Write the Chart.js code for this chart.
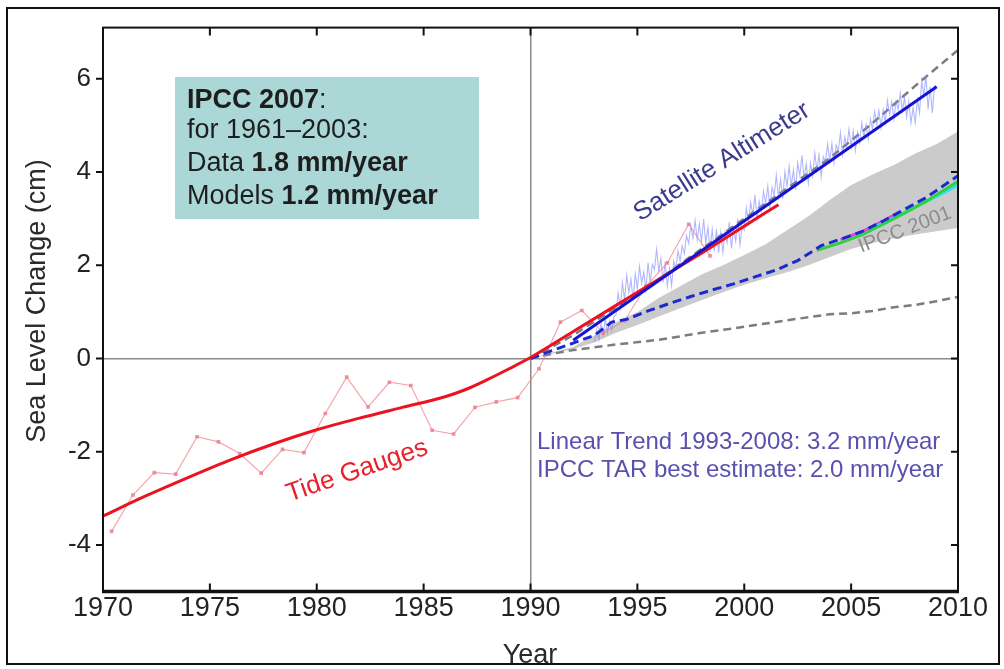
<!DOCTYPE html>
<html>
<head>
<meta charset="utf-8">
<script src="https://cdn.jsdelivr.net/npm/chart.js@4.4.1/dist/chart.umd.min.js"></script>
<style>
  html, body { margin: 0; padding: 0; background: #fff; }
  #wrap { position: relative; width: 1004px; height: 669px; overflow: hidden; }
  #frame { position: absolute; left: 6px; top: 7px; width: 990px; height: 654px; border: 2px solid #111; pointer-events: none; }
  canvas { position: absolute; left: 0; top: 0; }
</style>
</head>
<body>
<div id="wrap">
  <canvas id="seaLevel" width="1004" height="669"></canvas>
  <div id="frame"></div>
</div>
<script>
// axis ticks
const yearTicks = [1970, 1975, 1980, 1985, 1990, 1995, 2000, 2005, 2010];
const levelTicks = [-4, -2, 0, 2, 4, 6];

// tide gauge annual means (cm)
const tideYears = [1970.4, 1971.4, 1972.4, 1973.4, 1974.4, 1975.4, 1976.4, 1977.4, 1978.4, 1979.4,
  1980.4, 1981.4, 1982.4, 1983.4, 1984.4, 1985.4, 1986.4, 1987.4, 1988.4, 1989.4,
  1990.4, 1991.4, 1992.4, 1993.4, 1994.4, 1995.4, 1996.4, 1997.4, 1998.4];
const tideValues = [-3.71, -2.93, -2.45, -2.48, -1.68, -1.79, -2.04, -2.46, -1.95, -2.02,
  -1.18, -0.40, -1.04, -0.51, -0.58, -1.54, -1.62, -1.05, -0.93, -0.84,
  -0.22, 0.78, 1.03, 0.55, 0.81, 1.55, 2.05, 2.88, 2.20];

// smoothed tide gauge curve
const tideSmoothYears = [1970, 1972, 1974, 1976, 1978, 1980, 1982, 1984, 1986, 1987, 1988, 1989, 1990, 1992, 1994, 1996, 1998, 2000, 2001.6];
const tideSmoothValues = [-3.38, -2.95, -2.55, -2.17, -1.83, -1.53, -1.28, -1.05, -0.82, -0.66, -0.45, -0.22, 0.02, 0.58, 1.14, 1.70, 2.26, 2.84, 3.30];

// satellite altimeter record, one value every 0.1 year from 1993.0
const satStart = 1993.0;
const satStep = 0.1;
const satValues = [
  0.35, 0.62, 0.40, 0.75, 0.50, 0.85, 0.55, 0.80, 0.60, 0.90,
  0.93, 1.41, 1.09, 1.63, 1.26, 1.79, 1.42, 1.70, 1.24, 1.82,
  1.50, 1.98, 1.61, 1.85, 1.48, 2.06, 1.64, 2.02, 1.91, 2.34,
  1.87, 2.15, 1.63, 2.07, 1.55, 1.93, 1.56, 2.09, 1.93, 2.31,
  2.09, 2.42, 2.25, 2.64, 2.47, 2.85, 2.58, 2.96, 2.55, 2.88,
  2.51, 2.99, 2.47, 2.81, 2.34, 2.77, 2.30, 2.78, 2.27, 2.70,
  2.28, 2.71, 2.49, 2.93, 2.36, 2.79, 2.52, 3.00, 2.44, 2.82,
  2.75, 3.23, 2.91, 3.35, 3.08, 3.51, 2.99, 3.37, 3.16, 3.59,
  3.32, 3.70, 3.23, 3.67, 3.50, 3.93, 3.46, 3.84, 3.43, 4.01,
  3.69, 4.12, 3.70, 4.04, 3.62, 4.20, 3.93, 4.36, 3.85, 4.18,
  3.76, 4.19, 3.92, 4.41, 4.04, 4.37, 3.90, 4.33, 4.22, 4.60,
  4.23, 4.61, 4.19, 4.58, 4.46, 4.84, 4.37, 4.75, 4.54, 4.92,
  4.55, 4.88, 4.46, 4.85, 4.63, 5.06, 4.74, 5.02, 4.71, 5.14,
  4.92, 5.30, 5.03, 5.32, 4.95, 5.33, 5.06, 5.54, 5.23, 5.51,
  5.14, 5.52, 5.35, 5.69, 5.32, 5.60, 5.18, 5.51, 5.05, 5.38,
  5.06, 5.54, 5.27, 5.96, 5.64, 6.07, 5.35, 5.83, 5.27, 5.85,
  5.83
];

// satellite linear trend (3.2 mm/year)
const satTrendYears = [1992.0, 2009.0];
const satTrendValues = [0.39, 5.83];

// projections
const upperDashYears = [1990, 1992, 1994, 1996, 1998, 2000, 2002, 2004, 2006, 2008, 2010];
const upperDashValues = [0, 0.50, 1.10, 1.70, 2.35, 3.00, 3.65, 4.30, 5.05, 5.85, 6.62];

const lowerDashYears = [1990, 1991, 1992, 1994, 1996, 1998, 2000, 2002, 2004, 2005, 2006, 2007, 2008, 2009, 2010];
const lowerDashValues = [0, 0.10, 0.18, 0.30, 0.40, 0.55, 0.68, 0.82, 0.95, 0.97, 1.02, 1.10, 1.15, 1.23, 1.32];

const midDashYears = [1990, 1991, 1992, 1993, 1993.8, 1994.5, 1995.5, 1996.5, 1997.5, 1998.5, 1999.5, 2000.5,
  2001.5, 2002.5, 2003.2, 2003.6, 2004.5, 2005.5, 2006.5, 2007.5, 2008.5, 2009.3, 2010];
const midDashValues = [0, 0.17, 0.33, 0.50, 0.78, 0.84, 1.02, 1.18, 1.33, 1.47, 1.60, 1.75,
  1.90, 2.10, 2.30, 2.42, 2.56, 2.72, 2.95, 3.20, 3.45, 3.70, 3.92];

const bandYears = [1990, 1992, 1993, 1994, 1995, 1996, 1997, 1998, 1999, 2000,
  2001, 2002, 2003, 2004, 2005, 2006, 2007, 2008, 2009, 2010];
const bandUpper = [0, 0.25, 0.50, 0.78, 1.00, 1.30, 1.55, 1.80, 2.00, 2.22,
  2.45, 2.75, 3.05, 3.40, 3.72, 3.95, 4.15, 4.40, 4.60, 4.87];
const bandLower = [0, 0.20, 0.35, 0.55, 0.72, 0.90, 1.08, 1.25, 1.42, 1.58,
  1.72, 1.85, 2.00, 2.18, 2.35, 2.48, 2.58, 2.66, 2.73, 2.80];

const greenYears = [2003.4, 2004.5, 2005.5, 2006.5, 2007.5, 2008.5, 2009.3, 2010];
const greenValues = [2.32, 2.48, 2.65, 2.88, 3.12, 3.37, 3.60, 3.80];
const cyanYears = [2006, 2007, 2008, 2009, 2010];
const cyanValues = [2.80, 3.02, 3.25, 3.48, 3.72];
const magentaYears = [2004.5, 2005.5, 2006.5, 2007.3];
const magentaValues = [2.55, 2.72, 2.95, 3.15];

const toPoints = (xs, ys) => xs.map((x, i) => ({ x: x, y: ys[i] }));

const FONT = '"Liberation Sans", Arial, sans-serif';

// frame, inward/outward tick marks and the text labels
const decorations = {
  id: 'decorations',
  afterDatasetsDraw(chart) {
    const { ctx, chartArea: a, scales: { x, y } } = chart;
    ctx.save();
    ctx.strokeStyle = '#111';
    ctx.lineWidth = 2;
    ctx.strokeRect(a.left, a.top, a.right - a.left, a.bottom - a.top);
    ctx.lineWidth = 3.5;
    ctx.beginPath();
    ctx.moveTo(a.left - 1, a.bottom);
    ctx.lineTo(a.right + 1, a.bottom);
    ctx.stroke();

    ctx.lineWidth = 2;
    yearTicks.forEach(v => {
      const px = x.getPixelForValue(v);
      ctx.beginPath();
      ctx.moveTo(px, a.bottom);
      ctx.lineTo(px, a.bottom - 8);
      ctx.moveTo(px, a.top);
      ctx.lineTo(px, a.top + 8);
      ctx.stroke();
    });
    levelTicks.forEach(v => {
      const py = y.getPixelForValue(v);
      ctx.beginPath();
      ctx.moveTo(a.left - 7, py);
      ctx.lineTo(a.left, py);
      ctx.moveTo(a.right, py);
      ctx.lineTo(a.right - 7, py);
      ctx.stroke();
    });

    // axis titles
    ctx.fillStyle = '#2a2a2a';
    ctx.font = '27px ' + FONT;
    ctx.textAlign = 'center';
    ctx.textBaseline = 'middle';
    ctx.fillText('Year', 530, 656);
    ctx.save();
    ctx.translate(38, 301);
    ctx.rotate(-Math.PI / 2);
    ctx.fillText('Sea Level Change (cm)', 0, 0);
    ctx.restore();

    // IPCC 2007 box
    ctx.fillStyle = '#acd7d7';
    ctx.fillRect(175, 77, 304, 142);
    ctx.fillStyle = '#1e1e1e';
    ctx.textAlign = 'left';
    const runs = [
      [[['IPCC 2007', true], [':', false]], 101],
      [[['for 1961\u20132003:', false]], 131],
      [[['Data ', false], ['1.8 mm/year', true]], 164],
      [[['Models ', false], ['1.2 mm/year', true]], 197]
    ];
    runs.forEach(([parts, ly]) => {
      let lx = 187;
      parts.forEach(([txt, bold]) => {
        ctx.font = (bold ? 'bold ' : '') + '27px ' + FONT;
        ctx.fillText(txt, lx, ly);
        lx += ctx.measureText(txt).width;
      });
    });

    // trend notes
    ctx.fillStyle = '#5a50ae';
    ctx.font = '24px ' + FONT;
    ctx.fillText('Linear Trend 1993-2008: 3.2 mm/year', 537, 442);
    ctx.fillText('IPCC TAR best estimate: 2.0 mm/year', 537, 470);

    // rotated series labels
    const rotated = (txt, cx, cy, deg, size, color) => {
      ctx.save();
      ctx.translate(cx, cy);
      ctx.rotate(deg * Math.PI / 180);
      ctx.font = size + 'px ' + FONT;
      ctx.fillStyle = color;
      ctx.textAlign = 'center';
      ctx.fillText(txt, 0, 0);
      ctx.restore();
    };
    rotated('Satellite Altimeter', 722, 162, -32, 26, '#3c3c8e');
    rotated('Tide Gauges', 357, 471, -19, 26, '#e8202a');
    rotated('IPCC 2001', 905, 230, -21, 20, '#8c8c8c');
    ctx.restore();
  }
};

new Chart(document.getElementById('seaLevel'), {
  type: 'line',
  data: {
    datasets: [
      {
        label: 'Satellite trend',
        data: toPoints(satTrendYears, satTrendValues),
        borderColor: '#1414d2', borderWidth: 3, pointRadius: 0, order: 1
      },
      {
        label: 'Tide gauges smoothed',
        data: toPoints(tideSmoothYears, tideSmoothValues),
        borderColor: '#ec1220', borderWidth: 3, pointRadius: 0,
        cubicInterpolationMode: 'monotone', order: 2
      },
      {
        label: 'Model mean',
        data: toPoints(midDashYears, midDashValues),
        borderColor: '#1a2ad0', borderWidth: 3, borderDash: [9, 5], pointRadius: 0, order: 3
      },
      {
        label: 'Model green',
        data: toPoints(greenYears, greenValues),
        borderColor: '#30d040', borderWidth: 3, pointRadius: 0, order: 4
      },
      {
        label: 'Model cyan',
        data: toPoints(cyanYears, cyanValues),
        borderColor: '#30e0f0', borderWidth: 3, pointRadius: 0, order: 4
      },
      {
        label: 'Model magenta',
        data: toPoints(magentaYears, magentaValues),
        borderColor: '#e040e0', borderWidth: 3, pointRadius: 0, order: 4
      },
      {
        label: 'Tide gauges',
        data: toPoints(tideYears, tideValues),
        borderColor: 'rgba(240,130,140,0.7)', borderWidth: 1.2,
        pointStyle: 'rect', pointRadius: 2.6,
        pointBackgroundColor: 'rgba(238,120,135,0.8)', pointBorderWidth: 0, order: 5
      },
      {
        label: 'Satellite altimeter',
        data: satValues.map((v, i) => ({ x: satStart + i * satStep, y: v })),
        borderColor: 'rgba(125,135,255,0.6)', borderWidth: 1.1, pointRadius: 0, order: 6
      },
      {
        label: 'Upper projection',
        data: toPoints(upperDashYears, upperDashValues),
        borderColor: '#7c7c7c', borderWidth: 2.5, borderDash: [8, 5], pointRadius: 0, order: 7
      },
      {
        label: 'Lower projection',
        data: toPoints(lowerDashYears, lowerDashValues),
        borderColor: '#7c7c7c', borderWidth: 2.5, borderDash: [8, 5], pointRadius: 0, order: 7
      },
      {
        label: 'IPCC 2001 upper',
        data: toPoints(bandYears, bandUpper),
        borderWidth: 0, pointRadius: 0, fill: '+1',
        backgroundColor: '#cbcbcb', order: 9
      },
      {
        label: 'IPCC 2001 lower',
        data: toPoints(bandYears, bandLower),
        borderWidth: 0, pointRadius: 0, order: 9
      }
    ]
  },
  options: {
    responsive: false,
    animation: false,
    layout: { padding: { left: 0, right: 46, top: 26.5, bottom: 0 } },
    plugins: { legend: { display: false }, tooltip: { enabled: false } },
    scales: {
      x: {
        type: 'linear', min: 1970, max: 2010,
        afterBuildTicks: s => { s.ticks = yearTicks.map(v => ({ value: v })); },
        afterFit: s => { s.height = 77.5; },
        grid: {
          color: c => (c.tick && c.tick.value === 1990 ? '#8a8a8a' : 'rgba(0,0,0,0)'),
          lineWidth: 1.5, drawTicks: false
        },
        border: { display: false },
        ticks: {
          color: '#222', font: { family: FONT, size: 27 }, padding: 1, maxRotation: 0,
          callback: v => String(v)
        }
      },
      y: {
        type: 'linear', min: -5, max: 7.1,
        afterBuildTicks: s => { s.ticks = levelTicks.map(v => ({ value: v })); },
        afterFit: s => { s.width = 103; },
        grid: {
          color: c => (c.tick && c.tick.value === 0 ? '#8a8a8a' : 'rgba(0,0,0,0)'),
          lineWidth: 1.5, drawTicks: false
        },
        border: { display: false },
        ticks: { color: '#222', font: { family: FONT, size: 26 }, padding: 12 }
      }
    }
  },
  plugins: [decorations]
});
</script>
</body>
</html>
